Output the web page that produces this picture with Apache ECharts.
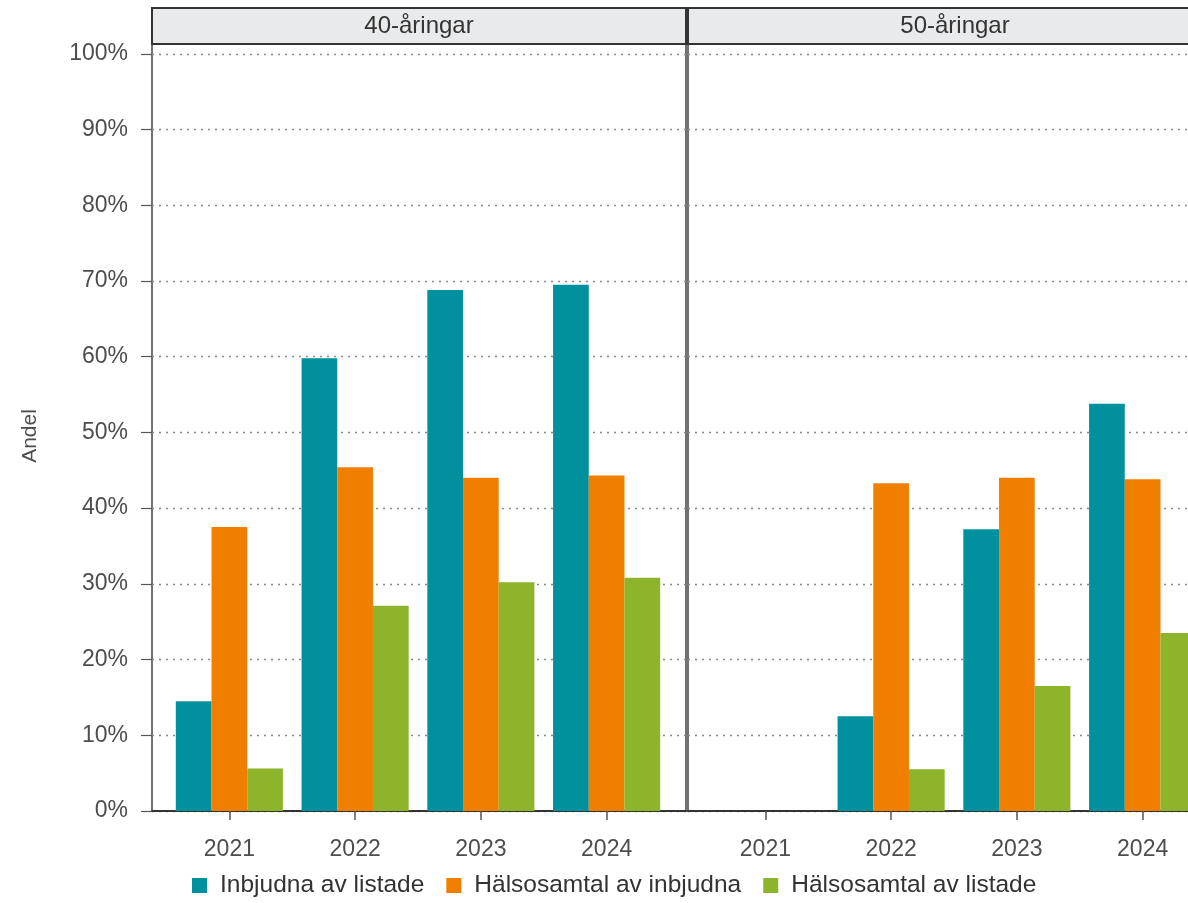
<!DOCTYPE html>
<html><head><meta charset="utf-8">
<script src="https://cdn.jsdelivr.net/npm/echarts@6/dist/echarts.min.js"></script>
<style>html,body{margin:0;padding:0;background:#fff;overflow:hidden;width:1188px;height:903px}#chart{width:1232px;height:903px}</style>
</head><body><div id="chart"></div>
<script>
// ---- data ----
const years = ['2021', '2022', '2023', '2024'];
const panels = ['40-åringar', '50-åringar'];
const seriesNames = ['Inbjudna av listade', 'Hälsosamtal av inbjudna', 'Hälsosamtal av listade'];
const inbjudna40 = [14.5, 59.8, 68.8, 69.5];
const halsoInbj40 = [37.5, 45.4, 44.0, 44.3];
const halsoList40 = [5.6, 27.1, 30.2, 30.8];
const inbjudna50 = [null, 12.5, 37.2, 53.8];
const halsoInbj50 = [null, 43.3, 44.0, 43.8];
const halsoList50 = [null, 5.5, 16.5, 23.5];
const yTicks = [0, 10, 20, 30, 40, 50, 60, 70, 80, 90, 100];
const yAxisTitle = 'Andel';

// ---- style / layout ----
const colors = ['#00909e', '#f07f00', '#8db42b'];
const FONT = 'Liberation Sans, Arial, sans-serif';
const plotTop = 44, plotHeight = 767, yMax = 101.3;
const frameLeft = [152, 688], frameWidth = 534;
const barInset = 14.5, barWidthArea = 503;
const stripTop = 8, stripH = 36;

const panelData = [
  [inbjudna40, halsoInbj40, halsoList40],
  [inbjudna50, halsoInbj50, halsoList50]
];

const grids = [], xAxes = [], yAxes = [], series = [], graphics = [];

panels.forEach((p, i) => {
  // frame grid (dotted gridlines, borders)
  grids.push({left: frameLeft[i], top: plotTop, width: frameWidth, height: plotHeight,
    show: true, borderColor: '#444', borderWidth: 1.5, backgroundColor: 'transparent'});
  xAxes.push({type: 'value', gridIndex: i, min: 0, max: 1, show: true,
    axisLine: {show: true, onZero: false, lineStyle: {color: '#333', width: 2}},
    axisTick: {show: false}, axisLabel: {show: false}, splitLine: {show: false}});
  yAxes.push({type: 'value', gridIndex: i, min: 0, max: yMax, interval: 10,
    axisLine: {show: false},
    axisTick: {show: i === 0, length: 11, customValues: yTicks, lineStyle: {color: '#555', width: 1.2}},
    axisLabel: {show: i === 0, customValues: yTicks, margin: 24, fontFamily: FONT, fontSize: 23, color: '#4d4d4d',
      formatter: v => (yTicks.indexOf(v) >= 0 ? v + '%' : '')},
    splitLine: {show: true, lineStyle: {color: '#8a8a8a', type: [2, 5], width: 1.4}}});
});

panels.forEach((p, i) => {
  const gi = 2 + i;
  grids.push({left: frameLeft[i] + barInset, top: plotTop, width: barWidthArea, height: plotHeight});
  xAxes.push({type: 'category', gridIndex: gi, data: years,
    axisLine: {show: false},
    axisTick: {show: true, alignWithLabel: true, length: 9, lineStyle: {color: '#555', width: 1.5}},
    axisLabel: {margin: 27, fontFamily: FONT, fontSize: 23, color: '#4d4d4d'}});
  yAxes.push({type: 'value', gridIndex: gi, min: 0, max: yMax, show: false, splitLine: {show: false}});
  seriesNames.forEach((name, s) => {
    series.push({type: 'bar', name: name, xAxisIndex: gi, yAxisIndex: gi,
      data: panelData[i][s], barWidth: 35.7, barGap: '0%',
      itemStyle: {color: colors[s]}});
  });
  // strip
  graphics.push({type: 'rect', z: 100,
    shape: {x: frameLeft[i], y: stripTop, width: frameWidth, height: stripH},
    style: {fill: '#e9eaec', stroke: '#333', lineWidth: 2}});
  graphics.push({type: 'text', z: 101, x: frameLeft[i] + frameWidth / 2, y: stripTop + stripH / 2,
    style: {text: p, fontFamily: FONT, fontSize: 24, fill: '#333', align: 'center', verticalAlign: 'middle'}});
});

graphics.push({type: 'text', z: 101, x: 30, y: 436, rotation: Math.PI / 2,
  style: {text: yAxisTitle, fontFamily: FONT, fontSize: 21, fill: '#4d4d4d', align: 'center', verticalAlign: 'middle'}});

const chart = echarts.init(document.getElementById('chart'), null, {renderer: 'canvas'});
chart.setOption({
  animation: false,
  backgroundColor: '#ffffff',
  grid: grids,
  xAxis: xAxes,
  yAxis: yAxes,
  series: series,
  legend: {
    data: seriesNames, left: 192, top: 873, orient: 'horizontal', padding: 0,
    icon: 'rect', itemWidth: 15, itemHeight: 15, itemGap: 22,
    textStyle: {fontFamily: FONT, fontSize: 24.5, color: '#333', padding: [0, 0, 0, 8]}
  },
  graphic: graphics
});
</script>
</body></html>
